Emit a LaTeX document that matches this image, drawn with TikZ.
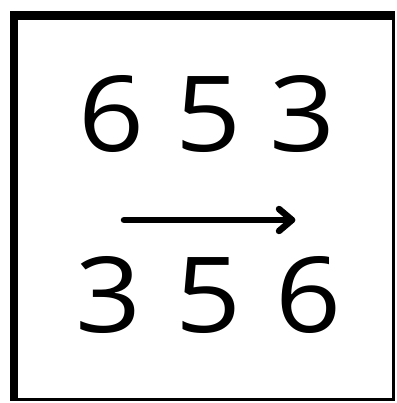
\documentclass[tikz,border=0pt]{standalone}
\usepackage{fontspec}
\usepackage{graphicx}
\newfontfamily\digitfont{Open Sans}
\begin{document}
\begin{tikzpicture}[x=1pt,y=-1pt,
  digit/.style={anchor=base,inner sep=0pt,font=\fontsize{105}{105}\digitfont},
  arrowline/.style={line width=6.5pt,line cap=round,line join=round}]
\useasboundingbox (0,0) rectangle (396,403);
\fill[white] (0,0) rectangle (396,403);
\fill[black] (10,11) rectangle (395,401);
\fill[white] (18,20) rectangle (392,398);
\node[digit] (t1) at (111.5,152) {\scalebox{1.1}[1]{6}};
\node[digit] (t2) at (209,152) {\scalebox{1.1}[1]{5}};
\node[digit] (t3) at (302.5,152) {\scalebox{1.1}[1]{3}};
\node[digit] (b1) at (108.5,332) {\scalebox{1.1}[1]{3}};
\node[digit] (b2) at (209,332) {\scalebox{1.1}[1]{5}};
\node[digit] (b3) at (308.5,332) {\scalebox{1.1}[1]{6}};
\coordinate (as) at (124,220);
\coordinate (ae) at (292,220);
\coordinate (au) at (279,209);
\coordinate (ad) at (279,231);
\draw[arrowline] (as) -- (ae);
\draw[arrowline] (au) -- (ae) -- (ad);
\end{tikzpicture}
\end{document}
